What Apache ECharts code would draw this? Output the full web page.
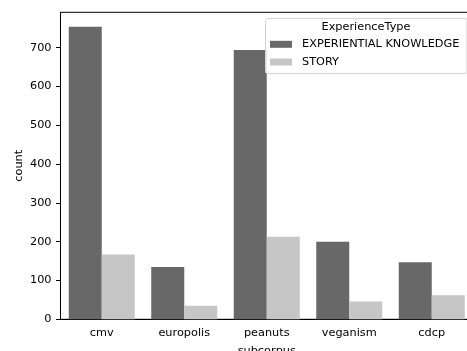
<!DOCTYPE html>
<html>
<head>
<meta charset="utf-8">
<script src="https://cdn.jsdelivr.net/npm/echarts@6/dist/echarts.min.js"></script>
<style>
  html, body { margin: 0; padding: 0; background: #fff; }
  #chart { width: 467px; height: 351px; }
</style>
</head>
<body>
<div id="chart"></div>
<script>
// Counts of experience types per subcorpus
const subcorpora = ['cmv', 'europolis', 'peanuts', 'veganism', 'cdcp'];
const experientialKnowledge = [754, 135, 694, 200, 147];
const story = [167, 35, 213, 46, 62];
const countTicks = [0, 100, 200, 300, 400, 500, 600, 700];

const FONT = 'DejaVu Sans';
const FS = 11.3;

const chart = echarts.init(document.getElementById('chart'), null, { renderer: 'canvas' });

chart.setOption({
  animation: false,
  backgroundColor: '#ffffff',
  textStyle: { fontFamily: FONT, fontSize: FS, color: '#000' },
  grid: {
    left: 60.5, top: 12.3, right: -6, bottom: 31.7,
    outerBoundsMode: 'none',
    containLabel: false,
    show: true, borderColor: '#000', borderWidth: 1, backgroundColor: 'transparent'
  },
  xAxis: {
    type: 'category',
    data: subcorpora,
    name: 'subcorpus',
    nameLocation: 'middle',
    nameGap: 26,
    nameMoveOverlap: false,
    nameTextStyle: { fontFamily: FONT, fontSize: FS, color: '#000' },
    axisLine: { lineStyle: { color: '#000', width: 1 } },
    axisTick: { alignWithLabel: true, length: 4.5, lineStyle: { color: '#000' } },
    axisLabel: { fontFamily: FONT, fontSize: FS, color: '#000', margin: 8.5 },
    splitLine: { show: false }
  },
  yAxis: {
    type: 'value',
    min: 0,
    max: 791,
    name: 'count',
    nameLocation: 'middle',
    nameRotate: 90,
    nameGap: 36,
    nameMoveOverlap: false,
    nameTextStyle: { fontFamily: FONT, fontSize: FS, color: '#000' },
    axisLine: { show: true, lineStyle: { color: '#000', width: 1 } },
    axisTick: { show: true, length: 4.5, customValues: countTicks, lineStyle: { color: '#000' } },
    axisLabel: { fontFamily: FONT, fontSize: FS, color: '#000', margin: 9, customValues: countTicks },
    splitLine: { show: false }
  },
  legend: {
    orient: 'vertical',
    left: 265,
    top: 18.3,
    padding: [19.5, 5, 4.8, 5],
    itemGap: 4.7,
    itemWidth: 22,
    itemHeight: 7,
    icon: 'rect',
    z: 10,
    textStyle: { fontFamily: FONT, fontSize: FS, color: '#000', lineHeight: 13, padding: [0, 0, 0, 5] },
    data: ['EXPERIENTIAL KNOWLEDGE', 'STORY']
  },
  graphic: [
    {
      type: 'rect',
      z: 5,
      shape: { x: 265.5, y: 18.5, width: 201.5, height: 55, r: 2 },
      style: { fill: 'rgba(255,255,255,0.8)', stroke: '#d4d4d4', lineWidth: 1 }
    },
    {
      type: 'text',
      z: 11,
      style: {
        text: 'ExperienceType', x: 366, y: 27.3,
        textAlign: 'center', textVerticalAlign: 'middle',
        font: FS + 'px "' + FONT + '"', fill: '#000'
      }
    }
  ],
  series: [
    {
      name: 'EXPERIENTIAL KNOWLEDGE',
      type: 'bar',
      data: experientialKnowledge,
      barGap: '0%',
      barCategoryGap: '20%',
      itemStyle: { color: '#686868' }
    },
    {
      name: 'STORY',
      type: 'bar',
      data: story,
      itemStyle: { color: '#c6c6c6' }
    }
  ]
});
</script>
</body>
</html>
